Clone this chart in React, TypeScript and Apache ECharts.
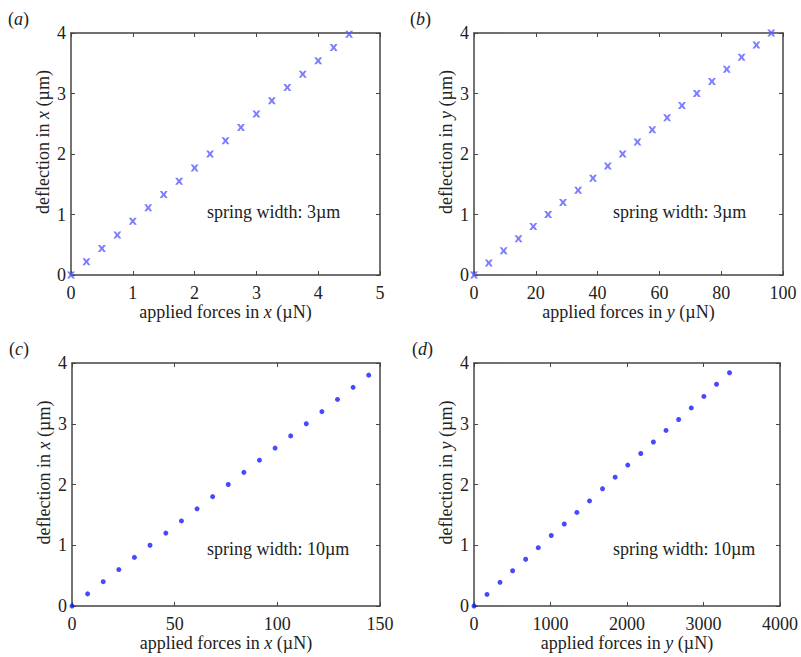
import React, { useEffect, useRef } from "react";
import * as echarts from "echarts";

// Panel (a): spring width 3µm, force in x
const forceA = [0, 0.25, 0.5, 0.75, 1, 1.25, 1.5, 1.75, 2, 2.25, 2.5, 2.75, 3, 3.25, 3.5, 3.75, 4, 4.25, 4.5];
const deflA = [0, 0.22, 0.44, 0.66, 0.89, 1.11, 1.33, 1.55, 1.77, 2.0, 2.22, 2.44, 2.66, 2.88, 3.1, 3.32, 3.54, 3.76, 3.98];

// Panel (b): spring width 3µm, force in y
const forceB = [0, 4.8, 9.6, 14.4, 19.2, 24.0, 28.8, 33.7, 38.5, 43.3, 48.1, 52.9, 57.7, 62.5, 67.3, 72.1, 77.0, 81.8, 86.6, 91.4, 96.2];
const deflB = [0, 0.2, 0.4, 0.6, 0.8, 1.0, 1.2, 1.4, 1.6, 1.8, 2.0, 2.2, 2.4, 2.6, 2.8, 3.0, 3.2, 3.4, 3.6, 3.8, 4.0];

// Panel (c): spring width 10µm, force in x
const forceC = [0, 7.6, 15.2, 22.8, 30.4, 38.0, 45.7, 53.3, 60.9, 68.5, 76.1, 83.7, 91.3, 98.9, 106.5, 114.1, 121.7, 129.3, 136.9, 144.5];
const deflC = [0, 0.2, 0.4, 0.6, 0.8, 1.0, 1.2, 1.4, 1.6, 1.8, 2.0, 2.2, 2.4, 2.6, 2.8, 3.0, 3.2, 3.4, 3.6, 3.8];

// Panel (d): spring width 10µm, force in y
const forceD = [0, 170, 340, 505, 675, 840, 1010, 1180, 1345, 1510, 1680, 1845, 2010, 2180, 2345, 2510, 2675, 2840, 3005, 3170, 3340];
const deflD = [0, 0.19, 0.39, 0.58, 0.77, 0.96, 1.16, 1.35, 1.54, 1.73, 1.93, 2.12, 2.32, 2.51, 2.7, 2.89, 3.07, 3.26, 3.45, 3.65, 3.84];

const panelLabels = ["a", "b", "c", "d"];
const axisDirs = ["x", "y", "x", "y"];
const springLabels = ["spring width: 3µm", "spring width: 3µm", "spring width: 10µm", "spring width: 10µm"];
const xMax = [5, 100, 150, 4000];
const xInterval = [1, 20, 50, 1000];
const yMax = [4, 4, 4, 4];
const yInterval = [1, 1, 1, 1];

const FONT = "Liberation Serif";
const AXIS_COLOR = "#444";
const TEXT_COLOR = "#222";
const FS = 18;

const grids = [
  { left: 71, top: 33, width: 309, height: 242 },
  { left: 474, top: 33, width: 309, height: 242 },
  { left: 72, top: 363, width: 308, height: 243 },
  { left: 474, top: 363, width: 309, height: 243 },
];
const springPos = [
  { left: 207, top: 203 },
  { left: 613, top: 203 },
  { left: 207, top: 540 },
  { left: 613, top: 540 },
];
const panelPos = [
  { left: 8, top: 10 },
  { left: 410, top: 10 },
  { left: 9, top: 340 },
  { left: 412, top: 340 },
];

const richStyles = {
  n: { fontFamily: FONT, fontSize: FS, color: TEXT_COLOR },
  i: { fontFamily: FONT, fontSize: FS, color: TEXT_COLOR, fontStyle: "italic" as const },
};

const crossSymbol =
  "path://M0,0L3,0L5,3L7,0L10,0L6.8,5L10,10L7,10L5,7L3,10L0,10L3.2,5Z";

export default function App() {
  const ref = useRef<HTMLDivElement>(null);
  useEffect(() => {
    if (!ref.current) return;
    const chart = echarts.init(ref.current, undefined, { renderer: "svg" });
    const xAxes: any[] = [];
    const yAxes: any[] = [];
    const series: any[] = [];
    const graphics: any[] = [];
    const datasets = [
      [forceA, deflA],
      [forceB, deflB],
      [forceC, deflC],
      [forceD, deflD],
    ];
    for (let i = 0; i < 4; i++) {
      const common = {
        gridIndex: i,
        min: 0,
        axisLine: { show: true, onZero: false, lineStyle: { color: AXIS_COLOR, width: 1.5 } },
        axisTick: { show: true, inside: true, length: 4, lineStyle: { color: AXIS_COLOR, width: 1 } },
        splitLine: { show: false },
      };
      const dir = axisDirs[i];
      xAxes.push({
        ...common,
        type: "value",
        position: "bottom",
        max: xMax[i],
        interval: xInterval[i],
        axisLabel: {
          show: true,
          fontFamily: FONT,
          fontSize: FS,
          color: TEXT_COLOR,
          margin: 9,
          formatter: (v: number) => String(v),
        },
        name: `{n|applied forces in }{i|${dir}}{n| (µN)}`,
        nameLocation: "middle",
        nameGap: 28,
        nameTextStyle: { rich: richStyles },
      });
      xAxes.push({
        ...common,
        type: "value",
        position: "top",
        max: xMax[i],
        interval: xInterval[i],
        axisLabel: { show: false },
      });
      yAxes.push({
        ...common,
        type: "value",
        position: "left",
        max: yMax[i],
        interval: yInterval[i],
        axisLabel: { show: true, fontFamily: FONT, fontSize: FS, color: TEXT_COLOR, margin: 5 },
        name: `{n|deflection in }{i|${dir}}{n| (µm)}`,
        nameLocation: "middle",
        nameGap: 19,
        nameTextStyle: { rich: richStyles, padding: [0, 0, 0, 24] },
      });
      yAxes.push({
        ...common,
        type: "value",
        position: "right",
        max: yMax[i],
        interval: yInterval[i],
        axisLabel: { show: false },
      });
      const [xs, ys] = datasets[i];
      const isCross = i < 2;
      series.push({
        type: "scatter",
        xAxisIndex: 2 * i,
        yAxisIndex: 2 * i,
        data: xs.map((x, k) => [x, ys[k]]),
        symbol: isCross ? crossSymbol : "circle",
        symbolSize: isCross ? [8, 7] : 5,
        itemStyle: { color: isCross ? "#5c5cff" : "#1a1aff" },
        clip: false,
      });
      graphics.push({
        type: "text",
        left: springPos[i].left,
        top: springPos[i].top,
        style: { text: springLabels[i], fontFamily: FONT, fontSize: FS, fill: TEXT_COLOR },
      });
      graphics.push({
        type: "text",
        left: panelPos[i].left,
        top: panelPos[i].top,
        style: {
          text: `{n|(}{i|${panelLabels[i]}}{n|)}`,
          rich: richStyles,
          fill: TEXT_COLOR,
        },
      });
    }
    chart.setOption({
      animation: false,
      backgroundColor: "#ffffff",
      grid: grids.map((g) => ({ ...g, containLabel: false })),
      xAxis: xAxes,
      yAxis: yAxes,
      series,
      graphic: graphics,
    });
    return () => chart.dispose();
  }, []);
  return (
    <div
      ref={ref}
      style={{ position: "fixed", left: 0, top: 0, width: 801, height: 657, background: "#fff" }}
    />
  );
}
